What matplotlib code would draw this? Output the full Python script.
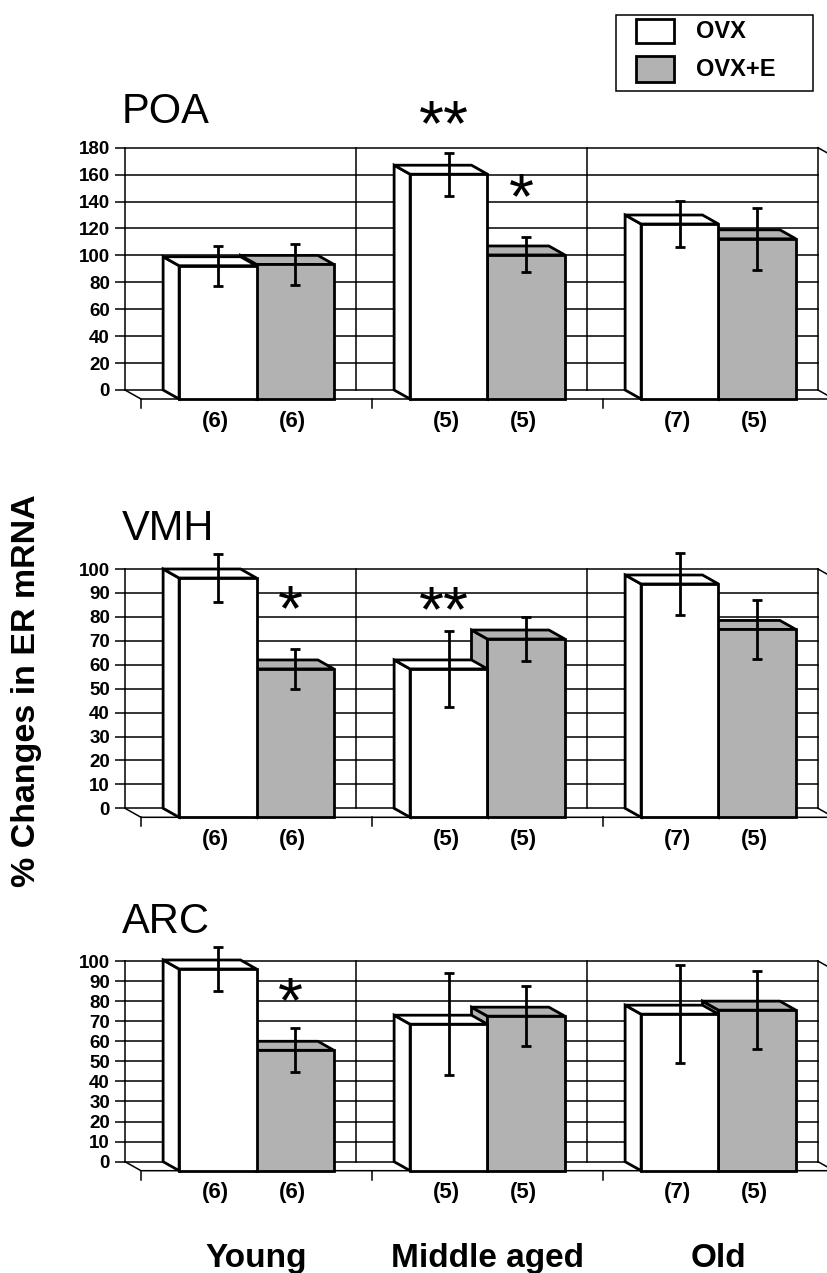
import matplotlib
matplotlib.use("Agg")
import numpy as np
import matplotlib.pyplot as plt
from matplotlib.patches import Polygon, Rectangle

W_PX, H_PX, DPI = 828, 1273, 100
PT = 72.0 / DPI  # points per pixel

plt.rcParams["font.family"] = ["Liberation Sans", "DejaVu Sans"]

groups = ["Young", "Middle aged", "Old"]
series = ["OVX", "OVX+E"]
n_labels = [["(6)", "(6)"], ["(5)", "(5)"], ["(7)", "(5)"]]

# values (% change), error = half-length of the error bar
poa_ovx = [99, 167, 130]
poa_ovx_e = [100, 107, 119]
poa_ovx_err = [15, 16, 17]
poa_ovx_e_err = [15, 13, 23]

vmh_ovx = [100, 62, 97.5]
vmh_ovx_e = [62, 74.5, 78.5]
vmh_ovx_err = [10, 16, 13]
vmh_ovx_e_err = [8.5, 9, 12.5]

arc_ovx = [100.5, 73, 78]
arc_ovx_e = [60, 77, 80]
arc_ovx_err = [11, 25.5, 24.5]
arc_ovx_e_err = [11, 15, 19.5]

# significance marks: (group, series, text, height in axis units)
poa_marks = [(1, 0, "**", 204), (1, 1, "*", 150)]
vmh_marks = [(0, 1, "*", 87), (1, 0, "**", 86.5)]
arc_marks = [(0, 1, "*", 84.5)]

GRAY = "#b2b2b2"
AX_L, AX_R = 125, 818          # back wall, pixels
DEPTH_X, DEPTH_Y = 16, 9       # 3-d depth offset, pixels
BAR_W, BAR_OFF = 0.335, 0.165
LW = 2.0


def fig_xy(x, y):
    return x / W_PX, 1 - y / H_PX


def draw_panel(fig, title, vals, errs, marks, ymax, step, top_px, zero_px, title_px):
    l, b = fig_xy(AX_L, zero_px)
    ax = fig.add_axes([l, b, (AX_R - AX_L) / W_PX, (zero_px - top_px) / H_PX])
    ax.set_xlim(0, 3)
    ax.set_ylim(0, ymax)
    ax.patch.set_visible(False)
    for sp in ax.spines.values():
        sp.set_visible(False)

    ppx = (AX_R - AX_L) / 3.0
    ppy = (zero_px - top_px) / ymax
    dx = DEPTH_X / ppx
    dy = DEPTH_Y / ppy

    ticks = np.arange(0, ymax + step / 2, step)
    ax.set_xticks([])
    ax.set_yticks(ticks)
    ax.set_yticklabels([str(int(t)) for t in ticks], fontsize=13.5, fontweight="bold")
    ax.tick_params(axis="y", direction="out", length=10 * PT, width=1.1, pad=5 * PT)

    # back wall
    for t in ticks:
        ax.plot([0, 3], [t, t], color="black", lw=1.1, zorder=1, clip_on=False)
    for g in range(4):
        ax.plot([g, g], [0, ymax], color="black", lw=1.1, zorder=1, clip_on=False)
    # floor and right edge
    ax.plot([0, dx, 3 + dx, 3], [0, -dy, -dy, 0], color="black", lw=1.1, zorder=1, clip_on=False)
    ax.plot([3, 3 + dx], [ymax, ymax - dy], color="black", lw=1.1, zorder=1, clip_on=False)
    for g in range(4):
        ax.plot([g + dx, g + dx], [-dy, -dy - 9 / ppy], color="black", lw=1.1, clip_on=False)

    for g in range(3):
        for s in (1, 0):
            xb = g + BAR_OFF + s * BAR_W
            v = vals[s][g]
            fc = "white" if s == 0 else GRAY
            kw = dict(facecolor=fc, edgecolor="black", lw=LW, joinstyle="miter",
                      zorder=3, clip_on=False)
            ax.add_patch(Polygon([(xb, 0), (xb, v), (xb + dx, v - dy), (xb + dx, -dy)], **kw))
            ax.add_patch(Polygon([(xb, v), (xb + BAR_W, v), (xb + BAR_W + dx, v - dy),
                                  (xb + dx, v - dy)], **kw))
            ax.add_patch(Rectangle((xb + dx, -dy), BAR_W, v, **kw))

            xc = xb + dx + BAR_W / 2
            eb = ax.errorbar(xc, v - dy, yerr=errs[s][g], fmt="none", ecolor="black",
                             elinewidth=LW, capsize=5 * PT, capthick=LW, zorder=5)
            for art in eb.get_children():
                art.set_clip_on(False)
            ax.annotate(n_labels[g][s], xy=(xc - 0.01, 0), xytext=(0, -31 * PT),
                        textcoords="offset points", ha="center", va="center",
                        fontsize=16, fontweight="bold", annotation_clip=False)

    for g, s, txt, h in marks:
        xc = g + BAR_OFF + s * BAR_W + dx + BAR_W / 2
        fs = 46
        ax.annotate(txt, xy=(xc - 0.02, h), xytext=(0, -0.47 * fs), textcoords="offset points",
                    ha="center", va="baseline", fontsize=fs, annotation_clip=False)

    tx, ty = fig_xy(122, title_px)
    fig.text(tx, ty, title, fontsize=30, ha="left", va="baseline")
    return ax, dx


fig = plt.figure(figsize=(W_PX / DPI, H_PX / DPI), dpi=DPI)

draw_panel(fig, "POA", [poa_ovx, poa_ovx_e], [poa_ovx_err, poa_ovx_e_err], poa_marks,
           180, 20, 147.7, 390, 123)
draw_panel(fig, "VMH", [vmh_ovx, vmh_ovx_e], [vmh_ovx_err, vmh_ovx_e_err], vmh_marks,
           100, 10, 569, 808.3, 540)
ax_arc, dx = draw_panel(fig, "ARC", [arc_ovx, arc_ovx_e], [arc_ovx_err, arc_ovx_e_err],
                        arc_marks, 100, 10, 961, 1161.7, 933)

for g, name in enumerate(groups):
    ax_arc.annotate(name, xy=(g + 0.5 + dx, 0), xytext=(0, -(1267 - 1161.7) * PT),
                    textcoords="offset points", ha="center", va="baseline",
                    fontsize=24, fontweight="bold", annotation_clip=False)

fx, fy = fig_xy(27, 691)
fig.text(fx, fy, "% Changes in ER mRNA", rotation=90, ha="center", va="center",
         fontsize=24.5, fontweight="bold")


# legend box
def fig_rect(x0, y0, x1, y1, **kw):
    l, b = fig_xy(x0, y1)
    fig.add_artist(Rectangle((l, b), (x1 - x0) / W_PX, (y1 - y0) / H_PX,
                             transform=fig.transFigure, **kw))


fig_rect(616, 15, 813, 91, facecolor="white", edgecolor="black", lw=1.1)
fig_rect(636, 19, 674, 43, facecolor="white", edgecolor="black", lw=LW)
fig_rect(636, 56, 674, 82, facecolor=GRAY, edgecolor="black", lw=LW)
for label, yc in zip(series, [32, 70]):
    lx, ly = fig_xy(696, yc)
    fig.text(lx, ly, label, fontsize=17, fontweight="bold", ha="left", va="center")

fig.savefig("out.png", dpi=DPI)
